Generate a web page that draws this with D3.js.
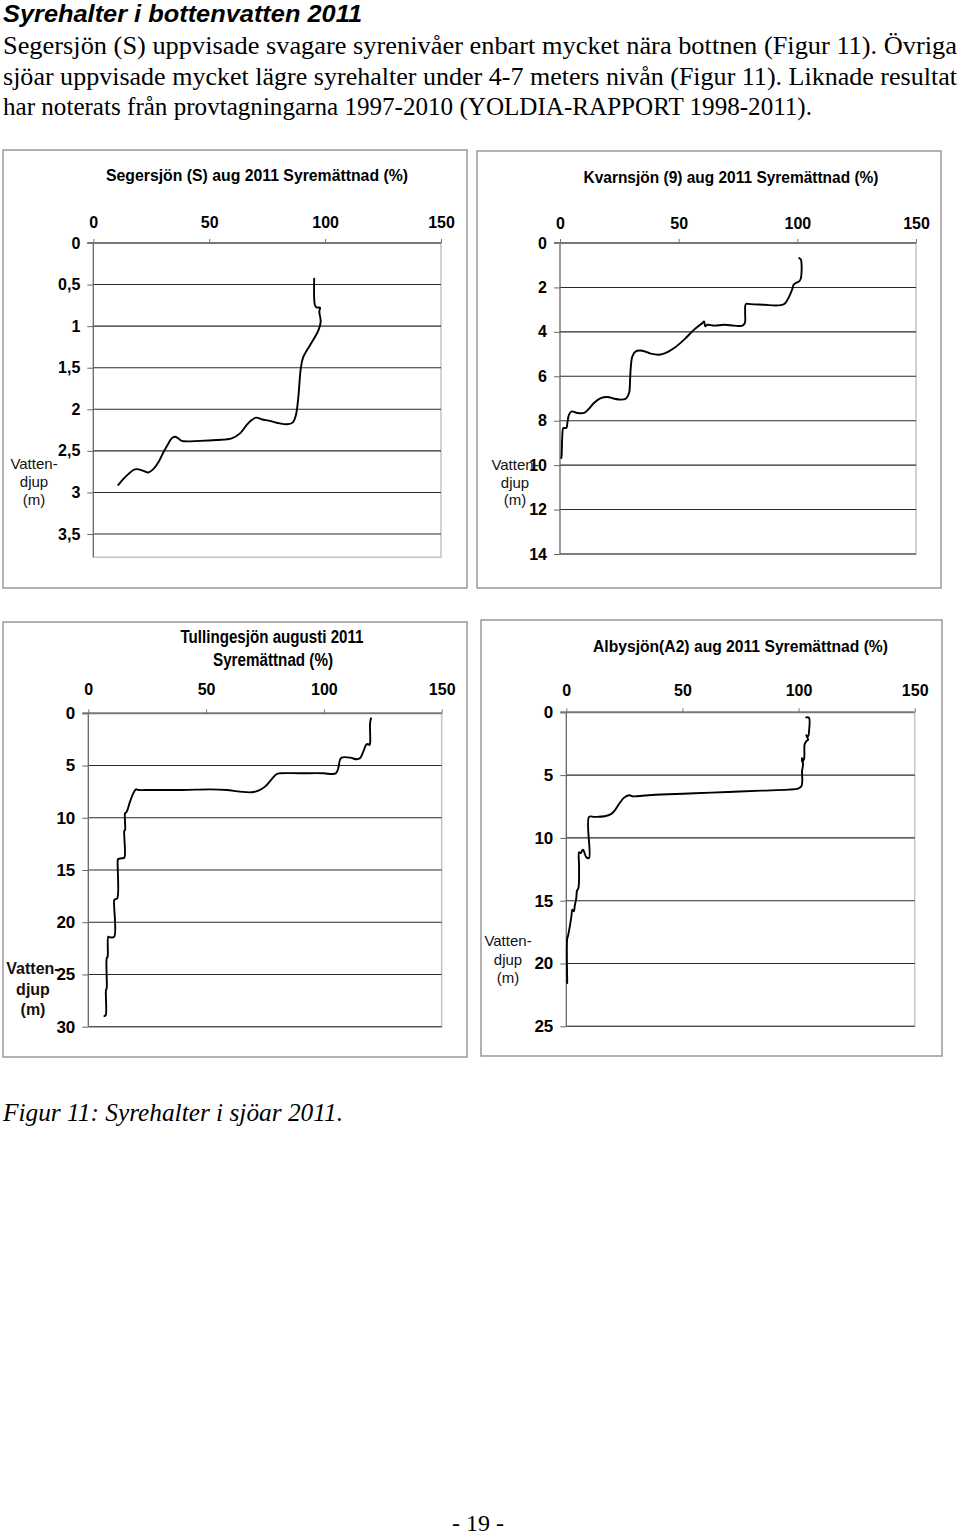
<!DOCTYPE html>
<html>
<head>
<meta charset="utf-8">
<script src="https://cdn.jsdelivr.net/npm/d3@7/dist/d3.min.js"></script>
<style>
  html, body { margin: 0; padding: 0; background: #fff; }
  svg { display: block; }
</style>
</head>
<body>
<svg id="page" width="960" height="1535"></svg>
<script>
// ---------------- DATA ----------------
const pageTitle = "Syrehalter i bottenvatten 2011";
const bodyLines = [
  "Segersjön (S) uppvisade svagare syrenivåer enbart mycket nära bottnen (Figur 11). Övriga",
  "sjöar uppvisade mycket lägre syrehalter under 4-7 meters nivån (Figur 11). Liknade resultat",
  "har noterats från provtagningarna 1997-2010 (YOLDIA-RAPPORT 1998-2011)."
];
const captionText = "Figur 11: Syrehalter i sjöar 2011.";
const pageNumber = "- 19 -";

const xTicks = [0, 50, 100, 150];
const xTickLabels = ["0", "50", "100", "150"];
const depthLabel = ["Vatten-", "djup", "(m)"];

// Segersjön (S)
const segTitle = ["Segersjön (S) aug 2011 Syremättnad (%)"];
const segYTicks = [0, 0.5, 1, 1.5, 2, 2.5, 3, 3.5];
const segYTickLabels = ["0", "0,5", "1", "1,5", "2", "2,5", "3", "3,5"];
const segO2 = [95.3, 95.6, 96.3, 97.8, 97.5, 98.1, 97.1, 93.5, 90.6, 89.6, 89.2, 88.4, 87.4, 86.0, 83.4, 80.5, 76.2, 72.6, 70.2, 68.3, 66.1, 63.3, 59.7, 53.2, 46.0, 38.1, 36.7, 35.2, 33.8, 32.4, 30.2, 28.0, 25.9, 23.7, 21.6, 18.7, 17.3, 15.1, 12.9, 10.8];
const segDepth = [0.43, 0.745, 0.776, 0.776, 0.825, 0.945, 1.05, 1.23, 1.37, 1.49, 1.59, 1.87, 2.07, 2.16, 2.18, 2.17, 2.14, 2.12, 2.10, 2.13, 2.19, 2.29, 2.35, 2.37, 2.38, 2.38, 2.35, 2.33, 2.35, 2.41, 2.52, 2.64, 2.72, 2.76, 2.74, 2.72, 2.73, 2.78, 2.84, 2.91];

// Kvarnsjön (9)
const kvaTitle = ["Kvarnsjön (9) aug 2011  Syremättnad (%)"];
const kvaYTicks = [0, 2, 4, 6, 8, 10, 12, 14];
const kvaYTickLabels = ["0", "2", "4", "6", "8", "10", "12", "14"];
const kvaO2 = [100.8, 101.5, 101.5, 100.8, 99.4, 98.4, 98.0, 96.6, 94.5, 91.7, 86.0, 80.4, 78.3, 78.0, 77.9, 76.9, 73.4, 69.2, 65.0, 62.1, 61.2, 60.7, 60.0, 56.5, 52.3, 48.1, 44.6, 41.8, 38.2, 34.7, 31.9, 30.5, 29.8, 29.5, 29.1, 27.7, 25.6, 22.8, 20.0, 17.2, 14.3, 12.2, 10.1, 7.3, 4.9, 3.8, 3.1, 2.7, 1.4, 1.0, 0.7, 0.56];
const kvaDepth = [0.68, 0.75, 1.58, 1.73, 1.80, 1.88, 2.03, 2.40, 2.75, 2.81, 2.78, 2.75, 2.75, 3.08, 3.60, 3.72, 3.72, 3.68, 3.72, 3.68, 3.75, 3.53, 3.60, 3.90, 4.35, 4.73, 4.95, 5.03, 4.98, 4.85, 4.88, 5.10, 5.63, 6.23, 6.75, 7.01, 7.05, 7.01, 6.93, 6.98, 7.20, 7.46, 7.65, 7.65, 7.58, 7.73, 8.10, 8.33, 8.33, 8.63, 9.53, 9.68];

// Tullingesjön
const tulTitle = ["Tullingesjön augusti 2011", "Syremättnad (%)"];
const tulYTicks = [0, 5, 10, 15, 20, 25, 30];
const tulYTickLabels = ["0", "5", "10", "15", "20", "25", "30"];
const tulO2 = [120.0, 119.6, 119.6, 119.3, 118.6, 117.9, 116.7, 115.3, 113.9, 111.1, 107.5, 106.8, 106.1, 105.1, 103.3, 99.8, 89.9, 81.4, 80.0, 77.8, 75.0, 72.2, 69.3, 64.4, 58.7, 51.6, 40.3, 26.2, 21.2, 20.2, 19.1, 17.7, 16.6, 16.0, 15.6, 15.6, 15.3, 15.3, 14.2, 12.7, 12.5, 12.3, 11.3, 11.0, 11.0, 9.2, 8.5, 8.2, 7.8, 7.8, 7.5, 7.4, 6.8];
const tulDepth = [0.48, 0.96, 2.87, 3.03, 2.94, 3.03, 3.67, 4.31, 4.40, 4.24, 4.24, 4.47, 5.27, 5.74, 5.81, 5.74, 5.74, 5.74, 5.81, 6.32, 7.02, 7.40, 7.56, 7.50, 7.34, 7.28, 7.34, 7.34, 7.34, 7.28, 7.66, 8.46, 9.26, 9.51, 9.57, 11.17, 11.23, 13.82, 13.88, 13.95, 14.04, 17.71, 17.81, 17.87, 21.38, 21.45, 21.38, 23.30, 23.46, 26.33, 26.49, 28.88, 28.98];

// Albysjön (A2)
const albTitle = ["Albysjön(A2) aug 2011 Syremättnad (%)"];
const albYTicks = [0, 5, 10, 15, 20, 25];
const albYTickLabels = ["0", "5", "10", "15", "20", "25"];
const albO2 = [103.3, 104.5, 104.5, 104.1, 103.3, 104.1, 103.3, 102.6, 102.3, 101.5, 101.5, 101.9, 101.5, 101.6, 101.2, 99.8, 95.5, 84.0, 69.6, 55.3, 40.9, 33.7, 28.7, 27.3, 25.1, 23.0, 20.8, 19.4, 16.5, 12.2, 9.8, 9.8, 8.6, 7.2, 6.2, 5.5, 5.5, 5.2, 4.6, 4.3, 3.6, 3.3, 2.6, 2.2, 1.4, 0.7, 0.4, 0.4];
const albDepth = [0.40, 0.45, 1.51, 1.91, 1.83, 2.18, 2.31, 2.57, 3.77, 3.90, 3.64, 4.17, 4.70, 5.49, 5.89, 6.08, 6.16, 6.24, 6.34, 6.45, 6.55, 6.63, 6.69, 6.61, 6.77, 7.22, 7.83, 8.09, 8.28, 8.33, 8.33, 11.60, 11.54, 10.93, 11.20, 11.15, 12.26, 14.0, 14.2, 14.78, 15.45, 15.84, 15.71, 16.24, 17.17, 17.83, 18.0, 21.55];

// ---------------- DRAW ----------------
const svg = d3.select("#page");
const SANS = "'Liberation Sans', Arial, sans-serif";
const SERIF = "'Liberation Serif', 'Times New Roman', serif";

// Header
svg.append("text").attr("x", 3).attr("y", 22)
  .attr("font-family", SANS).attr("font-weight", "bold").attr("font-style", "italic")
  .attr("font-size", 24.5).attr("textLength", 359).attr("lengthAdjust", "spacingAndGlyphs")
  .text(pageTitle);

const bodyBase = [54, 85, 115];
const bodyWidths = [954, 954, 809];
bodyLines.forEach((t, i) => {
  svg.append("text").attr("x", 3).attr("y", bodyBase[i])
    .attr("font-family", SERIF).attr("font-size", 25.5)
    .attr("textLength", bodyWidths[i]).attr("lengthAdjust", "spacingAndGlyphs")
    .text(t);
});

svg.append("text").attr("x", 3).attr("y", 1121)
  .attr("font-family", SERIF).attr("font-style", "italic").attr("font-size", 25)
  .attr("textLength", 340).attr("lengthAdjust", "spacingAndGlyphs")
  .text(captionText);

svg.append("text").attr("x", 478).attr("y", 1531).attr("text-anchor", "middle")
  .attr("font-family", SERIF).attr("font-size", 24)
  .text(pageNumber);

function drawChart(c) {
  const g = svg.append("g");
  // outer frame
  g.append("rect").attr("x", c.frame[0]).attr("y", c.frame[1])
    .attr("width", c.frame[2] - c.frame[0]).attr("height", c.frame[3] - c.frame[1])
    .attr("fill", "#fff").attr("stroke", "#999").attr("stroke-width", 1.5);

  const x = d3.scaleLinear().domain([0, 150]).range([c.plot.left, c.plot.right]);
  const y = d3.scaleLinear().domain(c.yDomain).range([c.plot.top, c.plot.bottom]);

  // plot border (right & bottom)
  g.append("path")
    .attr("d", `M${c.plot.right},${c.plot.top}V${c.plot.bottom}H${c.plot.left}`)
    .attr("fill", "none").attr("stroke", "#c4c4c4").attr("stroke-width", 1.5);

  // gridlines
  g.append("g").selectAll("line").data(c.yTicks.filter(d => d !== 0)).join("line")
    .attr("x1", c.plot.left).attr("x2", c.plot.right)
    .attr("y1", d => y(d)).attr("y2", d => y(d))
    .attr("stroke", "#2a2a2a").attr("stroke-width", 1.1);

  // y axis
  const ya = d3.axisLeft(y).tickValues(c.yTicks)
    .tickFormat((d, i) => c.yLabels[i]).tickSize(6).tickPadding(7);
  const yg = g.append("g").attr("transform", `translate(${c.plot.left},0)`).call(ya);
  yg.select(".domain").attr("stroke", "#666").attr("stroke-width", 1.3)
    .attr("d", `M0,${c.plot.top}V${c.plot.bottom}`);
  yg.selectAll(".tick line").attr("stroke", "#666");
  yg.selectAll(".tick text").attr("font-family", SANS).attr("font-weight", "bold")
    .attr("font-size", c.yFont).attr("fill", "#000");

  // x axis (top)
  const xa = d3.axisTop(x).tickValues(xTicks)
    .tickFormat((d, i) => xTickLabels[i]).tickSize(4).tickPadding(c.xPad);
  const xg = g.append("g").attr("transform", `translate(0,${c.plot.top})`).call(xa);
  xg.select(".domain").attr("stroke", "#777").attr("stroke-width", 2)
    .attr("d", `M${c.plot.left - 6},0H${c.plot.right}`);
  xg.selectAll(".tick line").attr("stroke", "#777");
  xg.selectAll(".tick text").attr("font-family", SANS).attr("font-weight", "bold")
    .attr("font-size", 16).attr("fill", "#000");

  // title
  c.title.forEach((t, i) => {
    g.append("text").attr("x", c.titlePos[i][0]).attr("y", c.titlePos[i][1])
      .attr("text-anchor", "middle").attr("font-family", SANS).attr("font-weight", "bold")
      .attr("font-size", c.titleFont).attr("textLength", c.titleWidth[i])
      .attr("lengthAdjust", "spacingAndGlyphs").text(t);
  });

  // depth label
  depthLabel.forEach((t, i) => {
    g.append("text").attr("x", c.depthPos[0]).attr("y", c.depthPos[1] + i * c.depthStep)
      .attr("text-anchor", "middle").attr("font-family", SANS)
      .attr("font-weight", c.depthBold ? "bold" : "normal")
      .attr("font-size", c.depthFont).attr("fill", "#111").text(t);
  });

  // profile line
  const pts = c.o2.map((v, i) => [v, c.depth[i]]);
  const line = d3.line().x(d => x(d[0])).y(d => y(d[1]))
    .curve(d3.curveCatmullRom.alpha(0.5));
  g.append("path").datum(pts).attr("d", line)
    .attr("fill", "none").attr("stroke", "#000").attr("stroke-width", 1.9)
    .attr("stroke-linejoin", "round").attr("stroke-linecap", "round");
}

drawChart({
  frame: [3, 150, 467, 588],
  plot: { left: 93.3, right: 441, top: 243, bottom: 557.3 },
  yDomain: [0, 3.78], yTicks: segYTicks, yLabels: segYTickLabels, yFont: 16,
  xPad: 11,
  title: segTitle, titlePos: [[257, 181]], titleWidth: [302], titleFont: 16.5,
  depthPos: [34, 469], depthStep: 18, depthFont: 15, depthBold: false,
  o2: segO2, depth: segDepth
});

drawChart({
  frame: [477, 151, 941, 588],
  plot: { left: 560, right: 916, top: 243, bottom: 554 },
  yDomain: [0, 14], yTicks: kvaYTicks, yLabels: kvaYTickLabels, yFont: 16,
  xPad: 10,
  title: kvaTitle, titlePos: [[731, 183]], titleWidth: [295], titleFont: 16.5,
  depthPos: [515, 470], depthStep: 17.5, depthFont: 15, depthBold: false,
  o2: kvaO2, depth: kvaDepth
});

drawChart({
  frame: [3, 622, 467, 1057],
  plot: { left: 88.3, right: 441.7, top: 713.3, bottom: 1026.7 },
  yDomain: [0, 30], yTicks: tulYTicks, yLabels: tulYTickLabels, yFont: 17,
  xPad: 14,
  title: tulTitle, titlePos: [[272, 643], [273, 666]], titleWidth: [183, 120], titleFont: 18,
  depthPos: [33, 974], depthStep: 20.5, depthFont: 16, depthBold: true,
  o2: tulO2, depth: tulDepth
});

drawChart({
  frame: [481, 620, 942, 1056],
  plot: { left: 566.3, right: 914.7, top: 712.3, bottom: 1026.3 },
  yDomain: [0, 25], yTicks: albYTicks, yLabels: albYTickLabels, yFont: 17,
  xPad: 12,
  title: albTitle, titlePos: [[740.5, 652]], titleWidth: [295], titleFont: 16.5,
  depthPos: [508, 946], depthStep: 18.5, depthFont: 15, depthBold: false,
  o2: albO2, depth: albDepth
});
</script>
</body>
</html>
